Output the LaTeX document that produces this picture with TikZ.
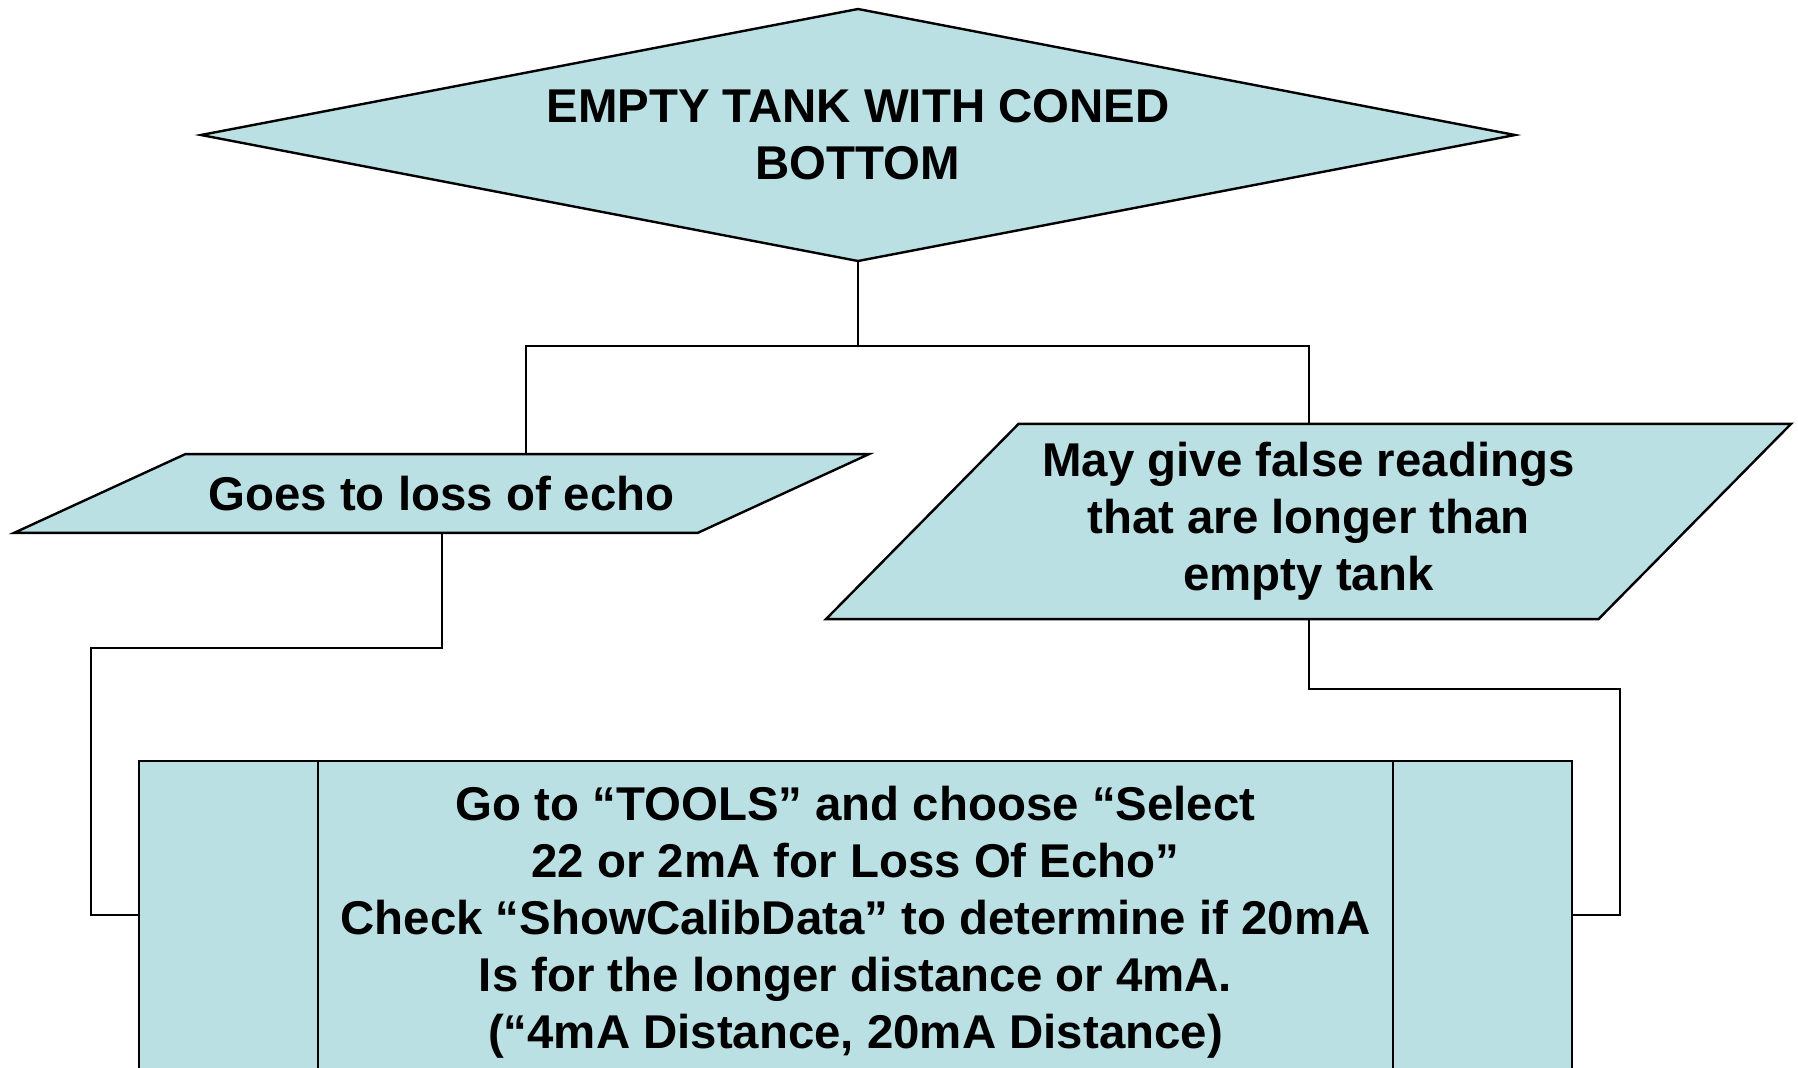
\documentclass[tikz,border=0pt]{standalone}
\usepackage{fontspec}
\setmainfont{Liberation Sans}
\usetikzlibrary{shapes.geometric}

\definecolor{boxfill}{RGB}{187,224,228}

\tikzset{
    shapebox/.style={draw=black, fill=boxfill, line width=1.2pt, inner sep=0pt, outer sep=0pt,
        align=center, font=\fontsize{23.7}{28.5}\selectfont\bfseries},
    link/.style={draw=black, line width=1pt}
}

\begin{document}
\begin{tikzpicture}[x=0.5pt, y=-0.5pt]

    % page frame, in pixels of the slide
    \clip (0,0) rectangle (1798,1067);

    % decision at the top
    \node[shapebox, diamond, aspect=5.2, minimum width=657pt, minimum height=126pt] (tank) at (858,135)
        {EMPTY TANK WITH CONED\\BOTTOM};

    % the two outcomes
    \node[shapebox, trapezium, trapezium left angle=24.7, trapezium right angle=155.3,
        trapezium stretches body, inner ysep=11pt, minimum width=427.5pt] (loss) at (441.5,493.5)
        {Goes to loss of echo};
    \node[shapebox, trapezium, trapezium left angle=45.4, trapezium right angle=134.6,
        trapezium stretches body, inner ysep=9.25pt, minimum width=482.5pt] (false) at (1308.5,521.5)
        {May give false readings\\that are longer than\\empty tank};

    % what to do about it
    \node[shapebox, rectangle, anchor=north, minimum width=716.5pt, minimum height=161.5pt] (tools) at (855.5,761)
        {Go to “TOOLS” and choose “Select\\22 or 2mA for Loss Of Echo”\\Check “ShowCalibData” to determine if 20mA\\Is for the longer distance or 4mA.\\(“4mA Distance, 20mA Distance)};
    \draw[line width=1.2pt] ([xshift=89.5pt]tools.north west) -- ([xshift=89.5pt]tools.south west);
    \draw[line width=1.2pt] ([xshift=-89.5pt]tools.north east) -- ([xshift=-89.5pt]tools.south east);

    % bend points of the connectors
    \coordinate (split) at (858,346);
    \coordinate (lbend) at (91,648);
    \coordinate (rbend) at (1620,689);

    % connectors
    \draw[link] (tank.south) -- (split);
    \draw[link] (split) -| ([xshift=42.25pt]loss.north);
    \draw[link] (split) -| (false.north);
    \draw[link] (loss.south) |- (lbend) |- ([yshift=-77pt]tools.north west);
    \draw[link] (false.south) |- (rbend) |- ([yshift=-77pt]tools.north east);

\end{tikzpicture}
\end{document}
